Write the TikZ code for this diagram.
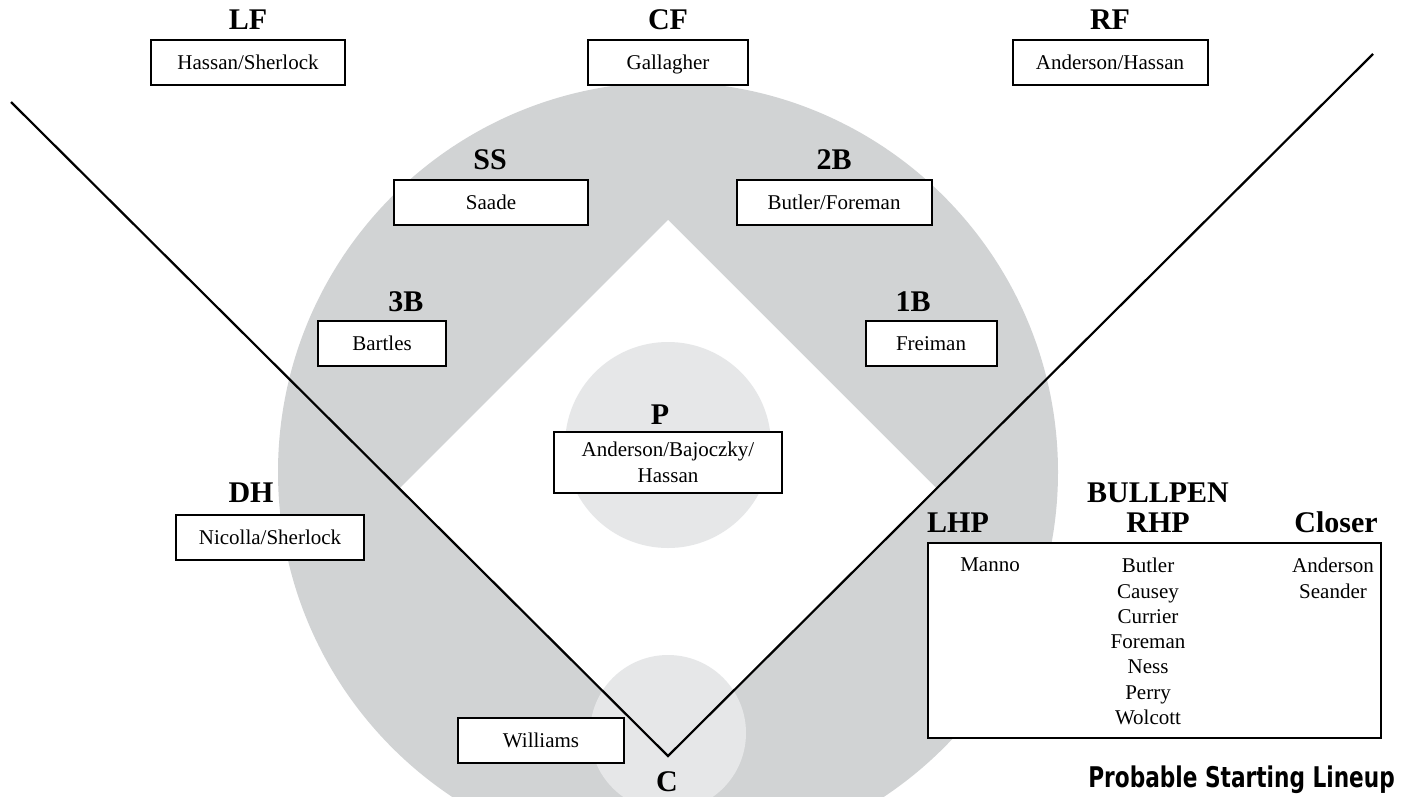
\documentclass[tikz,border=0pt]{standalone}
\usepackage{fontspec}
\setmainfont{Liberation Serif}
\newfontfamily\titlefont{DejaVu Sans}
\usepackage{graphicx}
\definecolor{grass}{HTML}{D1D3D4}
\definecolor{dirt}{HTML}{E6E7E8}
\tikzset{
  namebox/.style={draw=black, line width=2pt, fill=white, inner sep=0pt,
    font=\fontsize{21}{25}\selectfont, text height=14pt, text depth=0pt, minimum height=45pt},
  poslabel/.style={anchor=base, inner sep=0pt, font=\fontsize{30}{32}\selectfont\bfseries},
  listcol/.style={anchor=north, inner sep=0pt, align=center, font=\fontsize{21}{25.3}\selectfont},
  foul/.style={line width=2.2pt, draw=black}
}
\begin{document}
\begin{tikzpicture}[x=1pt,y=-1pt]
\useasboundingbox (0,0) rectangle (1403,796);
% field
\fill[grass] (668,472) circle (390);
\fill[white] (668,220) -- (936,488) -- (668,756) -- (400,488) -- cycle;
\fill[dirt] (668,445) circle (103);
\fill[dirt] (668,733) circle (78);
\clip (0,0) rectangle (1403,796);
% foul lines
\coordinate (lfpole) at (11,102);
\coordinate (home) at (668,756);
\coordinate (rfpole) at (1373,54);
\draw[foul] (lfpole) -- (home) -- (rfpole);
% outfield
\node[poslabel] (lfl) at (248,29) {LF};
\node[namebox, minimum width=194pt] (lf) at (248,62) {Hassan/Sherlock};
\node[poslabel] (cfl) at (668,29) {CF};
\node[namebox, minimum width=160pt] (cf) at (668,62) {Gallagher};
\node[poslabel] (rfl) at (1110,29) {RF};
\node[namebox, minimum width=195pt] (rf) at (1110,62) {Anderson/Hassan};
% middle infield
\node[poslabel] (ssl) at (490,169) {SS};
\node[namebox, minimum width=194pt] (ss) at (491,202) {Saade};
\node[poslabel] (2bl) at (834,169) {2B};
\node[namebox, minimum width=195pt] (2b) at (834,202) {Butler/Foreman};
% corners
\node[poslabel] (3bl) at (406,311) {3B};
\node[namebox, minimum width=128pt] (3b) at (382,343) {Bartles};
\node[poslabel] (1bl) at (913,311) {1B};
\node[namebox, minimum width=131pt] (1b) at (931,343) {Freiman};
% pitcher
\node[poslabel] (pl) at (660,424) {P};
\node[draw=black, line width=2pt, fill=white, minimum width=228pt, minimum height=61pt,
      align=center, inner sep=0pt, font=\fontsize{21}{26}\selectfont] (p) at (668,462)
      {Anderson/Bajoczky/\\Hassan};
% DH
\node[poslabel] (dhl) at (251,502) {DH};
\node[namebox, minimum width=188pt] (dh) at (270,537) {Nicolla/Sherlock};
% catcher
\node[namebox, minimum width=166pt] (c) at (541,740) {Williams};
\node[poslabel] (cl) at (667,791) {C};
% bullpen
\node[poslabel] (bpl) at (1158,502) {BULLPEN};
\node[poslabel] (lhpl) at (958,532) {LHP};
\node[poslabel] (rhpl) at (1158,532) {RHP};
\node[poslabel] (closl) at (1336,532) {Closer};
\node[draw=black, line width=2pt, fill=white, minimum width=453pt, minimum height=195pt, inner sep=0pt] (bp) at (1154.5,640.5) {};
\node[listcol] (lhp) at (990,558) {Manno};
\node[listcol] (rhp) at (1148,558) {Butler\\Causey\\Currier\\Foreman\\Ness\\Perry\\Wolcott};
\node[listcol] (clo) at (1333,558) {Anderson\\Seander};
% title
\node[anchor=base east, inner sep=0pt] (title) at (1395,787)
  {\scalebox{0.76}[1]{\titlefont\bfseries\fontsize{28.5}{31}\selectfont Probable Starting Lineup}};
\end{tikzpicture}
\end{document}
